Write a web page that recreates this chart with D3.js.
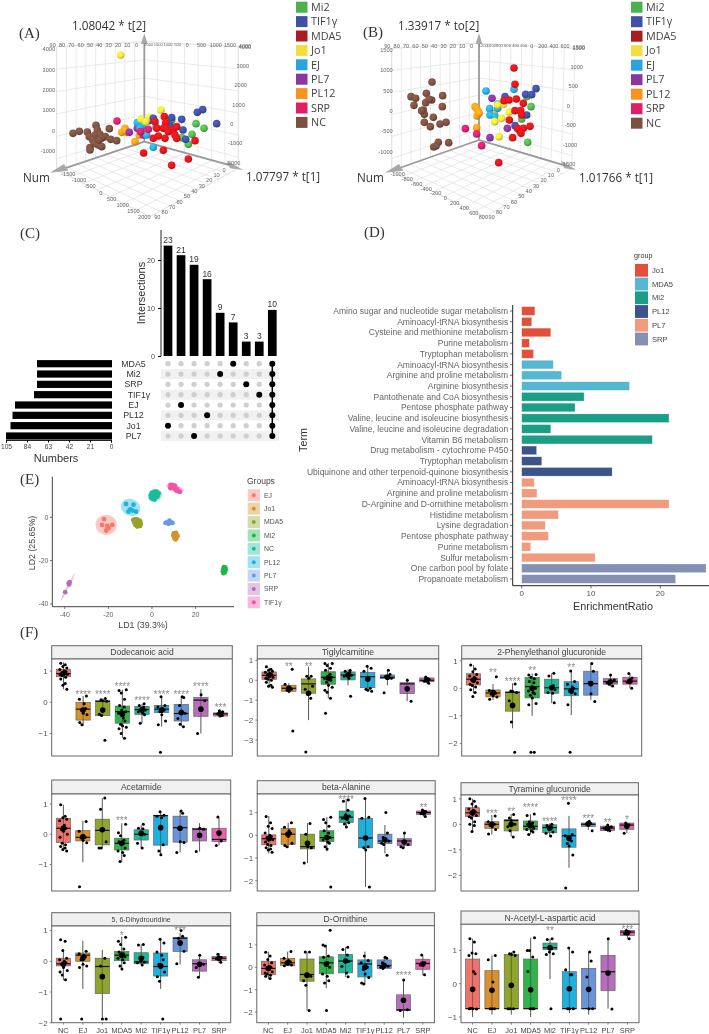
<!DOCTYPE html>
<html><head><meta charset="utf-8">
<script src="https://cdn.jsdelivr.net/npm/d3@7/dist/d3.min.js"></script>
<style>
html,body{margin:0;padding:0;background:#fff}
svg{display:block;filter:blur(0.4px)}
text{font-family:"Liberation Sans",Arial,sans-serif}
</style></head><body><svg id="c" width="709" height="1034"></svg>
<script>
// ---------- Panels A / B : screen-projected scores
const legend3d=['Mi2','TIF1γ','MDA5','Jo1','EJ','PL7','PL12','SRP','NC'];
const legendColors3d=['#4CAF50','#3F51A5','#A71E22','#F1DF3F','#2AA5DC','#8B35A0','#F7931E','#DE1F68','#7A5040'];
const sphereOrder=['NC','PL12','PL7','EJ','Jo1','Mi2','TIF1γ','MDA5','SRP'];
const sphereColors=['#7D5142','#F9A01B','#8E36A6','#27AEE3','#F6E53A','#52B84F','#3F51A8','#E4161C','#E01F70'];
const aNC=[[219,400],[238,394],[262,396],[268,410],[288,376],[292,390],[285,405],[300,403],[316,410],[305,415],[278,420],[270,443],[283,430],[295,435],[305,440],[332,418],[350,422],[328,386],[270,450],[297,420]];
const aPL12=[[375,385],[365,397],[380,397],[405,425],[418,405],[375,392]];
const aPL7=[[388,397],[412,385],[447,362],[430,405]];
const aEJ=[[412,368],[428,378],[440,405],[468,381],[460,442],[420,385]];
const aJo1=[[362,165],[483,330],[423,358],[450,352],[437,365]];
const aMi2=[[588,371],[612,385],[576,403],[565,433],[545,413],[515,360]];
const aTIF=[[608,329],[592,337],[650,371],[545,358],[515,353],[549,390],[557,418],[460,355],[510,375]];
const aMDA5=[[493,350],[497,368],[465,365],[490,385],[500,385],[520,390],[530,380],[525,405],[460,415],[475,408],[495,415],[530,415],[585,422],[490,451],[431,459],[565,477],[515,496],[470,385],[505,395]];
const aSRP=[[351,363],[422,395],[445,388]];
const bNC=[[231,246],[214,280],[168,290],[182,295],[177,316],[263,287],[230,300],[212,308],[222,298],[205,330],[262,320],[208,343],[235,352],[208,367],[226,380],[255,372],[273,367],[250,427],[281,428],[236,441],[243,438],[200,332]];
const bPL12=[[360,320],[365,325],[370,335],[366,348],[365,383],[418,340],[372,340]];
const bPL7=[[411,295],[457,385],[405,413]];
const bEJ=[[393,273],[477,268],[404,326],[428,325],[405,345],[420,350],[428,312]];
const bJo1=[[446,313],[428,315],[462,336],[440,355],[419,365],[432,410]];
const bMi2=[[528,320],[500,357],[518,427],[515,290]];
const bTIF=[[543,266],[512,283],[530,284],[450,290],[515,345],[480,377],[495,393]];
const bMDA5=[[477,204],[480,253],[447,302],[462,300],[484,297],[505,310],[480,332],[497,332],[500,345],[463,360],[488,386],[505,385],[525,379],[498,400],[473,413],[431,488]];
const bSRP=[[331,386],[365,402],[380,437]];
// box tick labels
const aNumTicks=[90,80,70,60,50,40,30,20,10,0];
const aT2Ticks=[4000,3000,2000,1000,0,-1000];
const aT2RightTicks=[4000,3000,2000,1000,0,-1000,-2000];
const aT1Ticks=[-1500,-1000,-500,0,500,1000,1500,2000];
const bO2Ticks=[1500,1000,500,0,-500,-1000];
const bO2RightTicks=[1500,1000,500,0,-500,-1000,-1500];
const bT1Ticks=[-1000,-800,-600,-400,-200,0,200,400,600,800];
// ---------- Panel C
const intersectionLabels=[23,21,19,16,9,7,3,3,10];
const intersectionValues=[23,21,19,16,9,7,3,3,9.6];
const setNames=['MDA5','Mi2','SRP','TIF1γ','EJ','PL12','Jo1','PL7'];
const setSizes=[74,74,74,77,96,98.5,100.5,105];
const intersectionMembers=[[6],[4],[7],[5],[1],[0],[2],[3],[0,1,2,3,4,5,6,7]];
const setTicks=[105,84,63,42,21,0];
const intersectionTicks=[0,10,20];
// ---------- Panel D
const terms=['Amino sugar and nucleotide sugar metabolism','Aminoacyl-tRNA biosynthesis','Cysteine and methionine metabolism','Purine metabolism','Tryptophan metabolism','Aminoacyl-tRNA biosynthesis','Arginine and proline metabolism','Arginine biosynthesis','Pantothenate and CoA biosynthesis','Pentose phosphate pathway','Valine, leucine and isoleucine biosynthesis','Valine, leucine and isoleucine degradation','Vitamin B6 metabolism','Drug metabolism - cytochrome P450','Tryptophan metabolism','Ubiquinone and other terpenoid-quinone biosynthesis','Aminoacyl-tRNA biosynthesis','Arginine and proline metabolism','D-Arginine and D-ornithine metabolism','Histidine metabolism','Lysine degradation','Pentose phosphate pathway','Purine metabolism','Sulfur metabolism','One carbon pool by folate','Propanoate metabolism'];
const enrichment=[1.9,1.45,4.2,1.1,1.7,4.55,5.75,15.55,9.0,7.7,21.25,4.2,18.85,2.15,2.9,13.05,1.8,2.2,21.25,5.3,3.4,3.85,1.3,10.6,26.6,22.2];
const termGroups=['Jo1','Jo1','Jo1','Jo1','Jo1','MDA5','MDA5','MDA5','Mi2','Mi2','Mi2','Mi2','Mi2','PL12','PL12','PL12','PL7','PL7','PL7','PL7','PL7','PL7','PL7','PL7','SRP','SRP'];
const enrichGroups=['Jo1','MDA5','Mi2','PL12','PL7','SRP'];
const enrichColors=['#E3503A','#55B7D0','#1A9E85','#3C5488','#F09A7E','#8491B4'];
const enrichTicks=[0,10,20];
// ---------- Panel E
const ldGroups=['EJ','Jo1','MDA5','Mi2','NC','PL12','PL7','SRP','TIF1γ'];
const ldColors=['#F8766D','#D3922A','#93A52A','#1FB548','#18BE9C','#1CB5E0','#6A98E6','#B56DB8','#EE55A8'];
const ldEllipses=[[-21,-3.5,4.9,4.6,0],[10.8,-8.6,1.7,2.0,0],[-6.7,-2.5,2.6,2.5,0],[33,-24.3,1.3,2.1,0],[1.4,10.3,3.2,2.8,-15],[-9.8,4.6,4.6,3.8,25],[8,-2.5,2.2,1.1,0],[-38.6,-32.2,7.2,.45,-63],[10.5,13.4,4.2,1.7,20]];
const ldEJ=[[-22,-.8],[-22.9,-3.5],[-18.2,-3.5],[-20.5,-4],[-20,-5.1],[-21,-6.1]];
const ldJo1=[[10,-7.4],[11,-7.2],[9.8,-8.4],[10.8,-8.4],[11.7,-8.6],[10.2,-9.4],[11.2,-9.6],[10.8,-10.2]];
const ldMDA5=[[-8.6,-1.2],[-7.5,-.9],[-6.4,-1.2],[-5.5,-1.8],[-8.2,-2.2],[-7,-2.5],[-5.8,-2.6],[-5.2,-3.2],[-7.5,-3.5],[-6.5,-3.6],[-5.5,-4],[-6.8,-4.3]];
const ldMi2=[[33,-23],[33.6,-23.2],[32.8,-24],[33.8,-24.2],[33.2,-24.8],[32.5,-25],[33.5,-25.3],[32.8,-25.8]];
const ldNC=[[-.5,9],[.5,9],[1.5,9.2],[2.5,9.6],[-.5,10.2],[.5,10.5],[1.5,10.6],[2.5,10.6],[3,11],[0,11.3],[1,11.7],[2,11.8],[.2,8.4],[1.2,8.2]];
const ldPL12=[[-11.9,6.2],[-8.5,5.8],[-10,3.7],[-8.9,3.1],[-7.3,2.6],[-10.8,2.6]];
const ldPL7=[[6.2,-2.6],[7,-2.4],[7.8,-2],[8.6,-2.4],[9.4,-2.6],[7.6,-3],[8,-1.6]];
const ldSRP=[[-39.8,-34.6],[-38,-31],[-38.2,-30.5],[-37.8,-30]];
const ldTIF=[[8.5,15],[9.5,15],[10.5,14.6],[8.4,13.5],[9.5,13.7],[10.5,13.2],[11.5,13],[12.2,12],[12.8,11.8],[11,12.6],[10,14],[11.5,12.2]];
const ldXTicks=[-40,-20,0,20];
const ldYTicks=[-40,-20,0];
// ---------- Panel F : per group [q1, median, q3, whiskerLow, whiskerHigh, mean]
const fGroups=['NC','EJ','Jo1','MDA5','Mi2','TIF1γ','PL12','PL7','SRP'];
const fColors=['#F0736A','#D9912B','#8FA52B','#2FB34A','#1DB899','#1FB0DD','#6A94D8','#B86DBD','#EA5FAE'];
const dodecBox=[[.82,.92,1.06,.42,1.28,.93],[-.57,-.22,0,-.75,.2,-.25],[-.43,.03,.05,-.43,.12,-.25],[-.67,-.3,-.12,-1.15,.4,-.38],[-.39,-.23,-.13,-.67,-.05,-.25],[-.33,-.22,-.1,-.78,.18,-.25],[-.6,-.36,-.07,-.78,.18,-.33],[-.45,.07,.16,-1,.42,-.22],[-.44,-.37,-.34,-.44,-.27,-.37]];
const dodecPts=[[1.25,1.2,1.15,1.1,1.05,1,.98,.95,.92,.9,.88,.85,.8,.75,.6,.55,.42],[.2,.1,-.05,-.2,-.25,-.35,-.4,-.65,-.72],[.12,.08,.05,.03,-.38,-.42,-1.22],[.4,.38,.3,.1,-.1,-.15,-.25,-.3,-.35,-.5,-.6,-.7,-.75,-.8,-.85,-1,-1.15],[-.05,-.1,-.15,-.2,-.25,-.3,-.35,-.4,-.67],[.18,-.1,-.15,-.2,-.25,-.3,-.4,-.6,-.72,-1.6],[.18,.15,-.1,-.28,-.35,-.52,-.7,-.78],[.24,.05,-1],[-.27,-.3,-.37,-.42,-.44]];
const dodecStars=[[1,'****',.34],[2,'****',.34],[3,'****',.58],[4,'****',.13],[5,'****',.34],[6,'****',.34],[7,'****',.58],[8,'***',-.1]];
const tigBox=[[.05,.25,.42,-.35,.63,.25],[-.55,-.4,-.25,-.65,-.15,-.4],[-.65,-.18,.07,-2,.68,-.65],[-.2,.15,.43,-.9,.88,.12],[.02,.27,.42,-.25,.55,.27],[-.37,.18,.4,-.55,.68,.05],[.08,.15,.27,-.25,.5,.15],[-.67,-.18,-.12,-1.05,.1,-.43],[-.07,0,.12,-.15,.17,.02]];
const tigPts=[[.68,.55,.5,.45,.4,.35,.3,.25,.2,.15,.1,.05,0,-.1,-.25,-.3,-.35],[.55,-.2,-.35,-.45,-.5,-.55,-2.55],[.2,.2,.1,-.3,-.45,-.7,-.9,-3.6],[.85,.85,.75,.6,.5,.3,.2,.15,.1,.05,0,-.1,-.25,-.35,-.5,-.6,-.9,-1.65],[.5,.45,.4,.3,.25,.2,.1,-.8],[.7,.6,.45,.1,-.4,-.45,-.5,-.55],[.5,.3,.2,.15,.1,-.62],[0,-1.05],[.17,.05,-.05,-.15]];
const tigStars=[[1,'**',.82],[2,'**',.82]];
const pheBox=[[.12,.33,.53,-.18,.85,.3],[-.31,-.17,-.06,-.42,.15,-.15],[-.83,-.15,-.13,-1.45,.18,-.62],[-.35,.06,.39,-1,.54,0],[-.18,.02,.33,-.54,.54,.02],[-.27,-.02,.24,-.97,.6,-.1],[-.25,.17,.62,-.42,.9,.17],[.15,.24,.35,.06,.48,.24],[.15,.26,.4,0,.54,.26]];
const phePts=[[.85,.7,.6,.5,.45,.4,.35,.3,.25,.2,.15,.1,.05,-.05,-.15,-.3],[.42,-.08,-.12,-.18,-.22,-.27,-.32,-.4],[.16,-.1,-.12,-.15,-.45,-1.22,-2.32],[.5,.48,.4,.35,.25,.2,.05,0,-.1,-.15,-.2,-.25,-.35,-.55,-.6,-2.32,-2.32],[.55,.45,.1,.05,-.05,-.15,-.18,-.52],[.63,.25,.15,.05,0,-.1,-.15,-.2,-.6,-2.32],[.9,.62,.2,-.2,-.48],[.48,.3,.2,.15,.08],[.54,.37,.22,0]];
const pheStars=[[1,'**',.66],[2,'****',.35],[3,'**',.75],[5,'**',.85]];
const acetBox=[[-.27,.2,.53,-.55,.98,.2],[-.22,-.1,.12,-.93,.45,-.08],[-.35,.13,.5,-.47,1.2,.15],[-.52,-.3,-.13,-.93,.37,-.3],[-.19,0,.15,-.47,.3,.03],[-.36,.62,.63,-.68,.75,.22],[-.26,.22,.6,-.6,.77,.2],[-.22,.17,.2,-.57,.37,-.03],[-.24,-.17,.2,-.37,.55,.04]];
const acetPts=[[.98,.6,.55,.5,.45,.3,.2,.15,.1,0,-.1,-.3,-.35,-.4,-.45,-.5,-.55],[.42,.1,-.05,-.1,-.12,-.2,-.28,-1.74],[1.2,.83,.13,-.25,-.45,-.45],[.33,.05,-.05,-.2,-.25,-.3,-.35,-.45,-.55,-.6,-.7,-.9],[.33,.2,.18,.05,0,-.3,-.45],[.75,.63,.6,.55,-.35,-.55,-.68],[.77,.7,.2,-.25,-.27,-.6],[.2,.17,-.57],[.57,-.22,-.37]];
const acetStars=[[3,'***',.53]];
const betaBox=[[-.42,-.15,.02,-.8,.85,-.15],[-.4,.05,.3,-.55,.55,.05],[-.6,-.5,.05,-1.22,.53,-.35],[-.28,-.1,.2,-.7,.8,-.1],[.57,.8,1.07,.35,1.6,.8],[-.55,-.12,.75,-2.27,1.62,-.12],[-.37,-.25,.05,-.8,.45,-.2],[-.45,-.25,-.15,-.55,.1,-.3],[.92,1,1.07,.83,1.12,1]];
const betaPts=[[.83,.55,.4,.3,.1,0,-.05,-.1,-.15,-.2,-.3,-.4,-.45,-.55,-.6,-.65,-.75],[.55,.35,.2,.1,.05,-.05,-.35,-.45,-.5],[.52,.05,-.5,-.55,-1.22],[.8,.7,.55,.4,.2,.1,-.05,-.1,-.2,-.3,-.35,-.5,-.6,-2.28],[1.55,1.5,1.1,.9,.85,.75,.7,.55,.5,.37],[1.62,.8,.75,-.12,-.5,-.55,-.65,-2.28],[1,.1,-.1,-.2,-.25,-.35,-.4,-.88],[.1,-.4,-.5,-.55],[1.12,1.05,.95,.83]];
const betaStars=[[4,'****',1.68],[8,'**',1.33]];
const tyrBox=[[.3,.45,.65,-.28,1,.45],[-.16,0,.1,-.4,.37,0],[-.26,.15,.18,-.48,.4,0],[-.22,-.08,.13,-.4,.4,-.05],[-.33,-.13,-.02,-.48,.04,-.15],[-.9,-.45,-.18,-1.7,.33,-.55],[-.09,0,.05,-.22,.13,.02],[-.25,-.15,-.07,-.3,0,-.15],[-.2,-.03,.05,-.35,.1,-.08]];
const tyrPts=[[1,.9,.8,.7,.6,.55,.5,.45,.4,.35,.3,.25,.1,0,-.05,-.28],[.33,.1,.05,0,-.05,-.1,-.2,-.38],[.38,.25,.15,0,-.1,-.25,-.5],[.4,.35,.1,.05,0,-.05,-.1,-.15,-.2,-.25,-.3,-.4],[0,-.05,-.12,-.2,-.3,-.35,-.46],[.83,-.4,-.45,-.5,-.65,-.75,-.85,-1.2,-2.5],[.12,.03,0,-.03,-.25],[-.03,-.1,-.15,-.2,-.25],[.05,-.02,-.35]];
const tyrStars=[[1,'***',.52],[2,'**',.59],[3,'****',.76],[4,'****',.2],[5,'****',1.02],[6,'***',.33],[7,'**',.17],[8,'*',.3]];
const dihBox=[[-.15,-.08,.1,-.62,.37,-.1],[0,.2,.27,-.9,.67,.1],[-1.05,-.17,.1,-1.88,.37,-.5],[.02,.2,.32,-.25,.8,.2],[-.08,-.02,.28,-.12,.55,.1],[-.48,-.17,.27,-.9,.72,-.15],[.32,.75,.78,-.1,.93,.6],[-.32,-.08,.05,-.52,.2,-.1],[.02,.1,.16,-.05,.27,.1]];
const dihPts=[[.7,.65,.35,.1,.05,0,-.05,-.1,-.2,-.3,-.35,-.45,-.6,-1.88],[.33,.25,.2,.15,.05,-.1,-.15,-.2,-1.88],[.1,-.15,-1.88,-1.88],[.78,.65,.55,.4,.3,.25,.2,.15,.1,.05,-.05,-.15,-.25],[.55,.53,.12,0,-.02,-.05,-.12],[.72,.6,.3,.2,.05,-.1,-.2,-.35,-.5,-.65,-1.88],[1,.82,.75,.55,.33,-.08],[.2,-.1,-.2,-.52],[.23,.12,.08,-.03]];
const dihStars=[[3,'*',.91],[6,'***',1.07]];
const ornBox=[[-.33,-.05,.27,-.53,.7,-.05],[.07,.2,.4,.07,.7,.2],[-.62,-.32,.37,-1.93,.7,-.35],[-.29,.2,.47,-.93,1,.15],[-.25,.28,.57,-.43,.9,.28],[-.43,.15,.33,-.78,.7,0],[-.05,.08,.33,-.07,.47,.08],[-1.93,-1.9,-1.23,-2.25,-.55,-1.47],[-.09,.17,.36,-.35,.55,.15]];
const ornPts=[[.67,.5,.35,.2,.1,.05,0,-.05,-.1,-.2,-.25,-.3,-.35,-.4,-.5],[.7,.4,.3,.25,.2,.15,.1,.07],[.68,.68,-.3,-.4,-.6,-.8,-1.93],[1.65,1,.95,.5,.45,.2,.1,0,-.3,-.4,-.6,-.7,-1.93],[.9,.8,.55,.3,.27,.05,-.25,-.42],[.5,.3,.2,.1,0,-.1,-.3,-.45,-.7,-.75],[.45,.4,.2,.1,.05,0,-.05],[-.57,-1.9,-1.93],[.55,.2,.1,-.33]];
const ornStars=[[7,'****',-.27]];
const acaBox=[[-.75,-.75,.74,-1,1.35,-.17],[-.75,-.75,.39,-.93,.85,-.2],[-.75,-.75,.88,-.93,.95,-.05],[-.75,-.75,.74,-1,1.38,-.18],[1.02,1.08,1.22,.14,1.35,1.08],[-.75,-.75,.36,-.88,1.07,-.15],[-.75,-.75,.46,-.93,.95,-.17],[-.21,.36,.85,-.75,1.35,.32],[1.45,1.55,1.6,1.35,1.62,1.53]];
const acaPts=[[1.35,1.25,.92,.9,.85,.37,.3,-.74,-.75,-.76,-.75],[.85,.72,.05,-.75,-.75,-.75],[.95,.9,.88,.85,-.75,-.75,-.75],[1.38,1,1,.8,.37,-.75,-.75,-.75],[1.35,1.33,1.05,.95,.9,.88,-.75],[1.07,.95,.42,.27,.27,-.75,-.75,-.75],[.95,.68,.2,-.75,-.75],[1.35,-.76],[1.6,1.55,1.5,1.35]];
const acaStars=[[4,'**',1.68],[8,'***',1.71]];
const jitterCycle=[-.14,.09,-.03,.17,-.19,.05,.13,-.09,.01,.2,-.17,-.06,.11];

// ---------- drawing helpers
const svg=d3.select('#c');
const txt=(g,x,y,s,o={})=>g.append('text').attr('x',x).attr('y',y).attr('dy','.35em')
  .attr('text-anchor',o.a||'start').attr('font-size',o.s||9).attr('fill',o.c||'#444')
  .style('font-family',o.f||null).attr('transform',o.r?`rotate(${o.r} ${x} ${y})`:null).text(s);
const SERIF='"Liberation Serif",serif', OPEN='"Open Sans",sans-serif';
[['(A)',19,33],['(B)',363,32],['(C)',20,233],['(D)',364,232],['(E)',20,479],['(F)',20,632]].forEach(d=>txt(svg,d[1],d[2],d[0],{s:15,c:'#333',f:SERIF}));

// gradients for spheres
const defs=svg.append('defs');
sphereOrder.forEach((n,i)=>{const g=defs.append('radialGradient').attr('id','sph'+i).attr('cx','.38').attr('cy','.32').attr('r','.75');
  g.append('stop').attr('offset','0').attr('stop-color',d3.color(sphereColors[i]).brighter(.5));
  g.append('stop').attr('offset','.6').attr('stop-color',sphereColors[i]);
  g.append('stop').attr('offset','1').attr('stop-color',d3.color(sphereColors[i]).darker(1.1));});

function box3d(cfg){
  const g=svg.append('g');
  const sx=d3.scaleLinear([0,1065],[cfg.ox,cfg.ox+355]), sy=d3.scaleLinear([0,660],[0,220]);
  const L=(a,b)=>g.append('line').attr('x1',sx(a[0])).attr('y1',sy(a[1])).attr('x2',sx(b[0])).attr('y2',sy(b[1])).attr('stroke','#dcdcdc').attr('stroke-width',.6);
  const mix=(a,b,t)=>[a[0]+(b[0]-a[0])*t,a[1]+(b[1]-a[1])*t];
  const {tc,bc,tl,bl,tr,br,tip}=cfg;
  const vf=d3.scaleLinear(cfg.vDomain,[0,1]);
  cfg.vTicks.forEach(v=>{const f=vf(v);L(mix(bl,tl,f),mix(bc,tc,f));L(mix(bc,tc,f),mix(br,tr,f));});
  L(tl,tc);L(tc,tr);L(tl,bl);L(tr,br);
  const nf=d3.scaleLinear([0,90],[0,1]);
  aNumTicks.forEach(n=>{const f=nf(n);L(mix(tc,tl,f),mix(bc,bl,f));L(mix(bc,bl,f),mix(br,tip,f));});
  const tf=d3.scaleLinear(cfg.tDomain,[0,1]);
  cfg.tTicks.forEach(t=>{const f=tf(t);L(mix(tc,tr,f),mix(bc,br,f));L(mix(bc,br,f),mix(bl,tip,f));});
  L(bl,tip);L(br,tip);
  // axes
  const ax=(a,b)=>g.append('line').attr('x1',sx(a[0])).attr('y1',sy(a[1])).attr('x2',sx(b[0])).attr('y2',sy(b[1])).attr('stroke','#9a9a9a').attr('stroke-width',1.8);
  ax(bc,[bc[0],cfg.topY]);ax(bc,cfg.lArrow[1]);ax(bc,cfg.rArrow[1]);
  const tri=p=>g.append('path').attr('d',d3.line()(p.map(q=>[sx(q[0]),sy(q[1])]))+'Z').attr('fill','#a8a8a8');
  tri([[bc[0],cfg.topY-30],[bc[0]-10,cfg.topY+2],[bc[0]+10,cfg.topY+2]]);
  tri(cfg.lArrow[0]);tri(cfg.rArrow[0]);
  // tick text
  const T=(x,y,s,a='middle',fs=5.6)=>txt(g,sx(x),sy(y),s,{s:fs,c:'#666',a});
  const nT=d3.scaleLinear([90,0],cfg.numTop);
  aNumTicks.forEach(n=>T(nT(n),cfg.topLabelY,n));
  const tT=d3.scaleLinear(cfg.topDomain,cfg.topRange);
  cfg.topTicks.forEach(t=>T(tT(t),cfg.topLabelY,Math.abs(t),'middle',t<0?4.1:5.4));
  T(cfg.topRight[0],cfg.topLabelY+4,cfg.topRight[1]);
  const yL=d3.scaleLinear(cfg.leftDomain,cfg.leftRange);
  cfg.leftTicks.forEach(v=>T(cfg.leftX,yL(v),String(v),'end'));
  const yR=d3.scaleLinear(cfg.rightDomain,cfg.rightRange), xR=d3.scaleLinear(cfg.rightDomain,cfg.rightX);
  cfg.rightTicks.forEach(v=>T(xR(v),yR(v),v,'start'));
  const flx=d3.scaleLinear(cfg.floorDomain,cfg.floorX), fly=d3.scaleLinear(cfg.floorDomain,cfg.floorY);
  cfg.floorTicks.forEach(v=>T(flx(v),fly(v),v));
  const frx=d3.scaleLinear([0,90],cfg.floorRX), fry=d3.scaleLinear([0,90],cfg.floorRY);
  aNumTicks.forEach(n=>T(frx(n),fry(n),n));
  // spheres
  cfg.sets.forEach((pts,i)=>g.selectAll(null).data(pts).join('circle').attr('cx',d=>sx(d[0])).attr('cy',d=>sy(d[1])).attr('r',3.8).attr('fill',`url(#sph${i})`));
  // text
  cfg.labels.forEach(l=>txt(g,l[0],l[1],l[2],{s:11.7,c:'#333',f:OPEN}));
  // legend
  legend3d.forEach((n,i)=>{const y=cfg.legY0+i*cfg.legDy;
    g.append('rect').attr('x',cfg.legX).attr('y',y-5.5).attr('width',11.5).attr('height',11).attr('fill',legendColors3d[i]);
    txt(g,cfg.legX+15,y,n,{s:10.8,c:'#444',f:OPEN});});
}
box3d({ox:0,tc:[433,125],bc:[433,425],tl:[170,140],bl:[170,510],tr:[715,140],br:[715,505],tip:[450,650],topY:130,
  vDomain:[-1500,4000],vTicks:aT2Ticks,tDomain:[-2000,1500],tTicks:[-1500,-1000,-500,0,500,1000,1500],
  lArrow:[[[150,518],[192,492],[205,512]],[185,508]],rArrow:[[[730,510],[680,482],[690,505]],[695,497]],
  numTop:[158,410],topLabelY:135,topDomain:[-2000,0,1500],topRange:[446,562,690],topTicks:[-2000,-1500,-1000,-500,0,500,1000,1500],topRight:[735,'4000'],
  leftDomain:[4000,-1000],leftRange:[148,453],leftX:165,leftTicks:aT2Ticks,
  rightDomain:[4000,-2000],rightRange:[140,488],rightX:[716,678],rightTicks:aT2RightTicks,
  floorDomain:[-1500,2000],floorX:[205,433],floorY:[522,652],floorTicks:aT1Ticks,floorRX:[672,472],floorRY:[510,652],
  sets:[aNC,aPL12,aPL7,aEJ,aJo1,aMi2,aTIF,aMDA5,aSRP],
  labels:[[72,26,'1.08042 * t[2]'],[23,178,'Num'],[246,177,'1.07797 * t[1]']],legX:296,legY0:7.2,legDy:14.4});
box3d({ox:355,tc:[372,130],bc:[372,420],tl:[110,145],bl:[110,515],tr:[660,145],br:[650,505],tip:[390,650],topY:130,
  vDomain:[-1300,1500],vTicks:bO2Ticks,tDomain:[-1200,600],tTicks:[-1000,-800,-600,-400,-200,0,200,400],
  lArrow:[[[90,518],[132,492],[145,512]],[125,507]],rArrow:[[[665,510],[618,482],[628,505]],[632,497]],
  numTop:[97,350],topLabelY:138,topDomain:[-1200,0,600],topRange:[385,530,630],topTicks:[-1200,-1000,-800,-600,-400,-200,0,200,400,600],topRight:[672,'1500'],
  leftDomain:[1500,-1000],leftRange:[150,455],leftX:113,leftTicks:bO2Ticks,
  rightDomain:[1500,-1500],rightRange:[143,492],rightX:[652,618],rightTicks:bO2RightTicks,
  floorDomain:[-1000,800],floorX:[128,385],floorY:[523,652],floorTicks:bT1Ticks,floorRX:[610,410],floorRY:[510,652],
  sets:[bNC,bPL12,bPL7,bEJ,bJo1,bMi2,bTIF,bMDA5,bSRP],
  labels:[[398,26,'1.33917 * to[2]'],[357,178,'Num'],[579,178,'1.01766 * t[1]']],legX:631,legY0:7.2,legDy:14.5});

// ---------- Panel C
(function(){
  const g=svg.append('g');
  const y=d3.scaleLinear([0,10],[356,308]);
  const x=d3.scaleLinear([0,8],[168,272.3]);
  const bw=8.7, rowY=d3.scaleLinear([0,7],[363.7,436]);
  setNames.forEach((n,i)=>{ if(i%2) g.append('rect').attr('x',161).attr('y',rowY(i)-5).attr('width',118).attr('height',10).attr('fill','#f1f1f1');});
  intersectionValues.forEach((v,i)=>{
    g.append('rect').attr('x',x(i)-bw/2).attr('y',y(v)).attr('width',bw).attr('height',y(0)-y(v)).attr('fill','#000');
    txt(g,x(i),y(v)-5.5,intersectionLabels[i],{s:8.5,a:'middle',c:'#333'});
  });
  const ya=d3.axisLeft(y).tickValues(intersectionTicks).tickSize(3);
  const ag=g.append('g').attr('transform','translate(161,0)').call(ya);
  ag.select('.domain').attr('d','M0,230V356').attr('stroke','#222');
  ag.selectAll('text').attr('font-size',7.2).attr('fill','#444');
  txt(g,141.5,293,'Intersections',{s:11,a:'middle',r:-90,c:'#333'});
  // dots
  intersectionMembers.forEach((m,c)=>{
    setNames.forEach((n,r)=>g.append('circle').attr('cx',x(c)).attr('cy',rowY(r)).attr('r',m.includes(r)?3:2.6).attr('fill',m.includes(r)?'#000':'#cfcfcf'));
    if(m.length>1) g.append('line').attr('x1',x(c)).attr('x2',x(c)).attr('y1',rowY(d3.min(m))).attr('y2',rowY(d3.max(m))).attr('stroke','#000').attr('stroke-width',1.5);
  });
  const xs=d3.scaleLinear([0,105],[111,6]);
  setSizes.forEach((v,i)=>{
    g.append('rect').attr('x',xs(v)).attr('y',rowY(i)-3.6).attr('width',xs(0)+1-xs(v)).attr('height',7.2).attr('fill','#000');
    txt(g,i===3?139:133.5,rowY(i),setNames[i],{s:8.8,a:'middle',c:'#333'});
  });
  const xa=g.append('g').attr('transform','translate(0,440)').call(d3.axisBottom(xs).tickValues(setTicks).tickSize(2.5).tickPadding(2));
  xa.select('.domain').attr('stroke','#222');
  xa.selectAll('text').attr('font-size',6.6).attr('fill','#444');
  txt(g,56,458,'Numbers',{s:11,a:'middle',c:'#333'});
})();

// ---------- Panel D
(function(){
  const g=svg.append('g');
  const x=d3.scaleLinear([0,10],[521.7,591]);
  const y=d3.scaleLinear([0,25],[311,579]);
  const col=d3.scaleOrdinal(enrichGroups,enrichColors);
  enrichment.forEach((v,i)=>{
    g.append('rect').attr('x',x(0)).attr('y',y(i)-4.3).attr('width',x(v)-x(0)).attr('height',8.6).attr('fill',col(termGroups[i])).attr('stroke','#fff').attr('stroke-opacity',.5).attr('stroke-width',.5);
    g.append('line').attr('x1',510).attr('x2',512.7).attr('y1',y(i)).attr('y2',y(i)).attr('stroke','#333').attr('stroke-width',.7);
    txt(g,508.2,y(i),terms[i],{s:8.5,a:'end',c:'#666'});
  });
  g.append('path').attr('d','M512.7,305V585.7H709').attr('fill','none').attr('stroke','#222').attr('stroke-width',1);
  enrichTicks.forEach(t=>{g.append('line').attr('x1',x(t)).attr('x2',x(t)).attr('y1',585.7).attr('y2',588.5).attr('stroke','#333').attr('stroke-width',.7);
    txt(g,x(t),593.5,t,{s:8,a:'middle',c:'#555'});});
  txt(g,613,606,'EnrichmentRatio',{s:10.8,a:'middle',c:'#333'});
  txt(g,303,440,'Term',{s:10.8,a:'middle',r:-90,c:'#333'});
  txt(g,634,255,'group',{s:7.2,c:'#333'});
  enrichGroups.forEach((n,i)=>{const cy=270.3+i*13.74;
    g.append('rect').attr('x',635).attr('y',cy-6.4).attr('width',13).attr('height',12.8).attr('fill',enrichColors[i]);
    txt(g,652,cy,n,{s:7.6,c:'#444'});});
})();

// ---------- Panel E
(function(){
  const g=svg.append('g');
  const x=d3.scaleLinear([0,20],[152,195.6]);
  const y=d3.scaleLinear([0,-20],[517.3,560.6]);
  const k=x(1)-x(0);
  const sets=[ldEJ,ldJo1,ldMDA5,ldMi2,ldNC,ldPL12,ldPL7,ldSRP,ldTIF];
  ldEllipses.forEach((e,i)=>g.append('ellipse').attr('cx',x(e[0])).attr('cy',y(e[1])).attr('rx',e[2]*k).attr('ry',e[3]*k)
    .attr('transform',`rotate(${e[4]} ${x(e[0])} ${y(e[1])})`).attr('fill',ldColors[i]).attr('fill-opacity',.4));
  sets.forEach((s,i)=>g.selectAll(null).data(s).join('circle').attr('cx',d=>x(d[0])).attr('cy',d=>y(d[1])).attr('r',2.4).attr('fill',ldColors[i]));
  g.append('path').attr('d','M52.3,476.7V606.7H234').attr('fill','none').attr('stroke','#444').attr('stroke-width',1);
  ldXTicks.forEach(t=>{g.append('line').attr('x1',x(t)).attr('x2',x(t)).attr('y1',606.7).attr('y2',609).attr('stroke','#444').attr('stroke-width',.7);
    txt(g,x(t),615,t,{s:7,a:'middle',c:'#666'});});
  ldYTicks.forEach(t=>{g.append('line').attr('x1',50).attr('x2',52.3).attr('y1',y(t)).attr('y2',y(t)).attr('stroke','#444').attr('stroke-width',.7);
    txt(g,48.5,y(t),t,{s:7,a:'end',c:'#666'});});
  txt(g,143,625,'LD1 (39.3%)',{s:8.8,a:'middle',c:'#444'});
  txt(g,32,543,'LD2 (25.65%)',{s:8.8,a:'middle',r:-90,c:'#444'});
  txt(g,247,481,'Groups',{s:8.5,c:'#444'});
  ldGroups.forEach((n,i)=>{const cy=495.3+i*13.38;
    g.append('rect').attr('x',247.7).attr('y',cy-6).attr('width',12.3).attr('height',12).attr('fill',ldColors[i]).attr('fill-opacity',.4);
    g.append('circle').attr('cx',253.8).attr('cy',cy).attr('r',2).attr('fill',ldColors[i]);
    txt(g,264,cy,n,{s:6.9,c:'#555'});});
})();

// ---------- Panel F
const fPanels=[
 {t:'Dodecanoic acid',box:dodecBox,pts:dodecPts,stars:dodecStars,ticks:[-1,0,1],x0:51.7,x1:232.3,st:645.7,pt:659,pb:756,y0:702.3,y1:671.1},
 {t:'Tiglylcarnitine',box:tigBox,pts:tigPts,stars:tigStars,ticks:[-3,-2,-1,0,1],x0:257.3,x1:438.7,st:645.7,pt:659,pb:756,y0:680.3,y1:660.4},
 {t:'2-Phenylethanol glucuronide',box:pheBox,pts:phePts,stars:pheStars,ticks:[-2,-1,0,1],x0:461.7,x1:641.7,st:645.7,pt:659,pb:756,y0:688.3,y1:660.75},
 {t:'Acetamide',box:acetBox,pts:acetPts,stars:acetStars,ticks:[-1,0,1],x0:51.7,x1:230.7,st:780,pt:794,pb:891,y0:834.3,y1:804.1},
 {t:'beta-Alanine',box:betaBox,pts:betaPts,stars:betaStars,ticks:[-2,-1,0,1],x0:257.2,x1:435.2,st:780.7,pt:794,pb:891,y0:835.3,y1:812.6},
 {t:'Tyramine glucuronide',box:tyrBox,pts:tyrPts,stars:tyrStars,ticks:[-2,-1,0,1],x0:461,x1:638.4,st:782.7,pt:795,pb:891,y0:824.3,y1:798.8},
 {t:'5, 6-Dihydrouridine',box:dihBox,pts:dihPts,stars:dihStars,ticks:[-2,-1,0,1],x0:51.7,x1:230.7,st:912.7,pt:926,pb:1022.7,y0:961.3,y1:930.6,lab:1,ts:7},
 {t:'D-Ornithine',box:ornBox,pts:ornPts,stars:ornStars,ticks:[-2,-1,0,1],x0:256.8,x1:434.4,st:912.7,pt:925.7,pb:1022.7,y0:967.3,y1:944.9,lab:1},
 {t:'N-Acetyl-L-aspartic acid',box:acaBox,pts:acaPts,stars:acaStars,ticks:[-1,0,1],x0:461,x1:639,st:911,pt:924.3,pb:1022.7,y0:983.7,y1:950.4,lab:1}
];
fPanels.forEach(p=>{
  const g=svg.append('g');
  const x=d3.scalePoint(fGroups,[p.x0,p.x1]).padding(.6);
  const y=d3.scaleLinear([0,1],[p.y0,p.y1]);
  const w=(x.step())*.73;
  g.append('rect').attr('x',p.x0).attr('y',p.st).attr('width',p.x1-p.x0).attr('height',p.pt-p.st).attr('fill','#f0f0f0').attr('stroke','#666').attr('stroke-width',1);
  txt(g,(p.x0+p.x1)/2,(p.st+p.pt)/2,p.t,{s:p.ts||8.6,a:'middle',c:'#444'});
  g.append('rect').attr('x',p.x0).attr('y',p.pt).attr('width',p.x1-p.x0).attr('height',p.pb-p.pt).attr('fill','#fff').attr('stroke','#666').attr('stroke-width',1);
  p.ticks.forEach(t=>{g.append('line').attr('x1',p.x0-2).attr('x2',p.x0).attr('y1',y(t)).attr('y2',y(t)).attr('stroke','#555').attr('stroke-width',.7);
    txt(g,p.x0-4,y(t),String(t).replace('-','−'),{s:8,a:'end',c:'#555'});});
  fGroups.forEach((n,i)=>{
    const b=p.box[i],cx=x(n);
    g.append('line').attr('x1',cx).attr('x2',cx).attr('y1',y(b[3])).attr('y2',y(b[4])).attr('stroke','#555').attr('stroke-width',1);
    g.append('rect').attr('x',cx-w/2).attr('y',y(b[2])).attr('width',w).attr('height',y(b[0])-y(b[2])).attr('fill',fColors[i]).attr('stroke','#666').attr('stroke-width',.7);
    g.append('line').attr('x1',cx-w/2).attr('x2',cx+w/2).attr('y1',y(b[1])).attr('y2',y(b[1])).attr('stroke','#111').attr('stroke-width',1.2);
    g.append('line').attr('x1',cx).attr('x2',cx).attr('y1',y(b[2])).attr('y2',y(b[0])).attr('stroke','#333').attr('stroke-width',.5);
    p.pts[i].forEach((v,j)=>g.append('circle').attr('cx',cx+jitterCycle[(j+i*3)%jitterCycle.length]*x.step()).attr('cy',y(v)).attr('r',1.5).attr('fill','#000'));
    g.append('circle').attr('cx',cx).attr('cy',y(b[5])).attr('r',2.8).attr('fill','#000');
    if(p.lab){g.append('line').attr('x1',cx).attr('x2',cx).attr('y1',p.pb).attr('y2',p.pb+2).attr('stroke','#555').attr('stroke-width',.7);
      txt(g,cx,p.pb+7.5,n,{s:7.4,a:'middle',c:'#444'});}
  });
  p.stars.forEach(s=>txt(g,x(fGroups[s[0]]),y(s[2])+2.5,s[1],{s:10,a:'middle',c:'#8c8c8c'}));
});
</script></body></html>
